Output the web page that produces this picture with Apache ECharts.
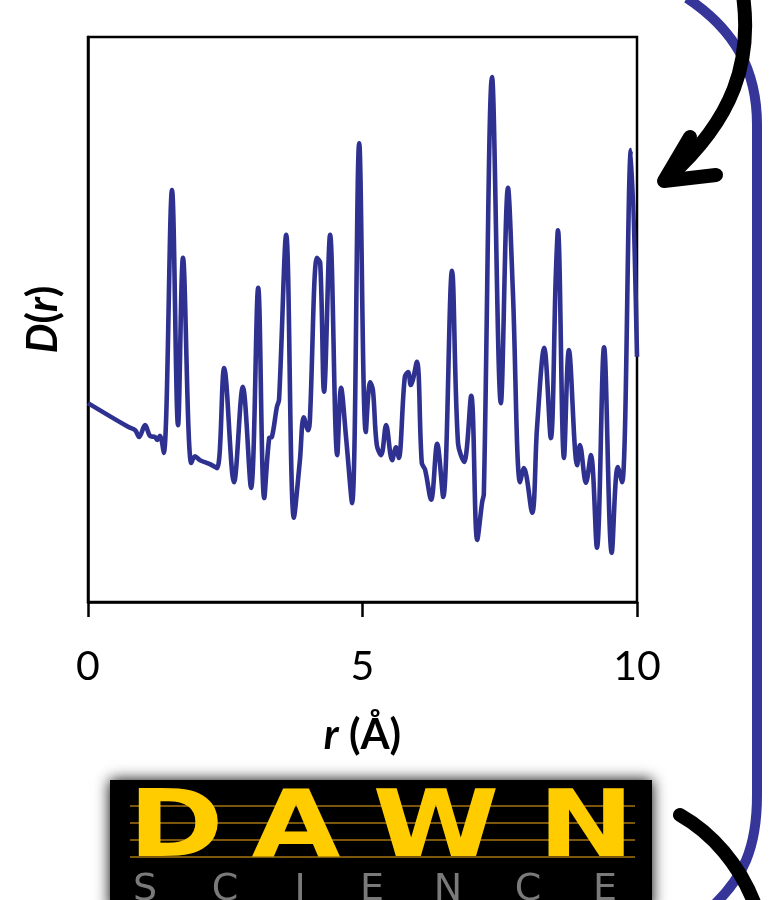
<!DOCTYPE html>
<html>
<head>
<meta charset="utf-8">
<script src="https://cdn.jsdelivr.net/npm/echarts@6/dist/echarts.min.js"></script>
<style>
  html, body { margin: 0; padding: 0; background: #fff; }
  #main { width: 776px; height: 900px; }
</style>
</head>
<body>
<div id="main"></div>
<script>
// r in angstrom, D(r) in arbitrary units (0-100 across the plot box)
let rValues = [0, 0.73, 0.86, 0.93, 1.04, 1.13, 1.22, 1.26, 1.31, 1.38,
    1.53, 1.64, 1.73, 1.88, 1.95, 2.04, 2.22, 2.35, 2.48, 2.66,
    2.82, 2.97, 3.10, 3.21, 3.30, 3.35, 3.44, 3.48, 3.61, 3.75,
    3.86, 3.93, 4.01, 4.04, 4.17, 4.23, 4.30, 4.41, 4.54, 4.61,
    4.70, 4.81, 4.94, 5.06, 5.14, 5.19, 5.26, 5.34, 5.43, 5.54,
    5.61, 5.66, 5.77, 5.83, 5.88, 5.99, 6.08, 6.14, 6.25, 6.36,
    6.47, 6.63, 6.74, 6.85, 6.98, 7.09, 7.18, 7.21, 7.36, 7.52,
    7.65, 7.74, 7.87, 7.94, 8.09, 8.18, 8.31, 8.43, 8.52, 8.56,
    8.67, 8.76, 8.91, 8.96, 9.07, 9.16, 9.27, 9.40, 9.54, 9.65,
    9.73, 9.89, 10.0];
let dValues = [35.2, 31.0, 30.4, 29.2, 31.3, 29.4, 29.2, 28.7, 29.4, 26.4,
    72.9, 31.3, 60.9, 24.6, 25.8, 25.1, 24.4, 23.7, 41.4, 21.2,
    38.1, 20.2, 55.6, 18.4, 29.0, 29.2, 34.5, 35.8, 65.0, 14.9,
    25.1, 32.7, 30.4, 31.9, 60.9, 60.0, 37.2, 65.0, 26.0, 37.9,
    29.2, 17.5, 81.2, 30.1, 38.9, 37.5, 27.8, 26.0, 31.3, 25.1,
    27.4, 25.5, 39.8, 40.7, 38.4, 42.5, 24.6, 23.4, 18.1, 28.0,
    18.6, 58.6, 28.1, 24.8, 36.5, 11.0, 17.7, 19.1, 92.9, 35.2,
    73.3, 54.7, 21.2, 23.7, 15.8, 31.0, 45.0, 29.0, 57.5, 65.8,
    25.5, 44.6, 24.2, 27.8, 21.1, 26.0, 9.6, 45.1, 8.7, 23.9,
    21.2, 80.0, 43.4];
let xTicks = [0, 5, 10];

let dom = document.getElementById("main");
let myChart = echarts.init(dom);

let lineData = rValues.map(function (r, i) { return [r, dValues[i]]; });

let dawnLetters = ['D', 'A', 'W', 'N'];
let dawnX = [176, 296, 436, 586];
let scienceLetters = ['S', 'C', 'I', 'E', 'N', 'C', 'E'];
let scienceX = [145, 225, 300, 372, 448, 528, 605];

let graphics = [
    // DAWN logo box
    {
        type: 'rect', z: 1,
        shape: { x: 110, y: 780, width: 542, height: 130 },
        style: { fill: '#000', shadowBlur: 14, shadowColor: '#000' }
    }
];
[806, 823, 840, 857].forEach(function (y) {
    graphics.push({
        type: 'line', z: 2,
        shape: { x1: 130, y1: y, x2: 635, y2: y },
        style: { stroke: '#b07a10', lineWidth: 2, opacity: 0.7 }
    });
});
dawnLetters.forEach(function (ch, i) {
    graphics.push({
        type: 'text', z: 3,
        x: dawnX[i], y: 832, scaleX: 1.25,
        style: {
            text: ch, fill: '#ffcc00', align: 'center', verticalAlign: 'middle',
            font: 'bold 92px "DejaVu Sans"'
        }
    });
});
scienceLetters.forEach(function (ch, i) {
    graphics.push({
        type: 'text', z: 3,
        x: scienceX[i], y: 890,
        style: {
            text: ch, fill: '#7a7a7a', align: 'center', verticalAlign: 'middle',
            font: '38px "DejaVu Sans"'
        }
    });
});
// blue bracket
let blue = { fill: null, stroke: '#35359a', lineWidth: 10 };
graphics.push({
    type: 'bezierCurve', z: 4,
    shape: { x1: 687, y1: -2, cpx1: 735, cpy1: 30, cpx2: 757, cpy2: 70, x2: 757, y2: 125 },
    style: blue
});
graphics.push({
    type: 'line', z: 4,
    shape: { x1: 757, y1: 125, x2: 757, y2: 795 },
    style: blue
});
graphics.push({
    type: 'bezierCurve', z: 4,
    shape: { x1: 757, y1: 795, cpx1: 757, cpy1: 850, cpx2: 742, cpy2: 878, x2: 714, y2: 905 },
    style: blue
});
// black arrows
graphics.push({
    type: 'bezierCurve', z: 5,
    shape: { x1: 743, y1: -5, cpx1: 752, cpy1: 60, cpx2: 735, cpy2: 118, x2: 668, y2: 178 },
    style: { fill: null, stroke: '#000', lineWidth: 14, lineCap: 'round' }
});
graphics.push({
    type: 'polyline', z: 5,
    shape: { points: [[690, 137], [664, 181], [716, 175]] },
    style: { fill: null, stroke: '#000', lineWidth: 14, lineCap: 'round', lineJoin: 'round' }
});
graphics.push({
    type: 'bezierCurve', z: 5,
    shape: { x1: 680, y1: 815, cpx1: 712, cpy1: 833, cpx2: 740, cpy2: 865, x2: 755, y2: 905 },
    style: { fill: null, stroke: '#000', lineWidth: 14, lineCap: 'round' }
});

let nameRich = {
    i: { fontFamily: 'Lato', fontSize: 42, fontWeight: 'bold', fontStyle: 'italic', color: '#000' },
    b: { fontFamily: 'Lato', fontSize: 42, fontWeight: 'bold', color: '#000' }
};

option = {
    backgroundColor: '#fff',
    animation: false,
    grid: {
        left: 88, right: 139, top: 37, bottom: 298,
        show: true, borderColor: '#000', borderWidth: 2.5,
        backgroundColor: 'transparent'
    },
    xAxis: {
        type: 'value',
        min: 0, max: 10, interval: 5,
        name: '{i|r}{b| (Å)}',
        nameLocation: 'middle',
        nameGap: 112,
        nameTextStyle: { rich: nameRich },
        axisLine: { lineStyle: { color: '#000', width: 2.5 } },
        axisTick: { show: true, length: 15, lineStyle: { color: '#000', width: 2.5 } },
        axisLabel: {
            margin: 44,
            fontFamily: 'Lato', fontSize: 41, color: '#000',
            formatter: function (v) { return xTicks.indexOf(v) >= 0 ? String(v) : ''; }
        },
        splitLine: { show: false }
    },
    yAxis: {
        type: 'value',
        min: 0, max: 100,
        name: '{i|D}{b|(}{i|r}{b|)}',
        nameLocation: 'middle',
        nameGap: 24,
        nameTextStyle: { rich: nameRich },
        axisLine: { show: true, lineStyle: { color: '#000', width: 2.5 } },
        axisTick: { show: false },
        axisLabel: { show: false },
        splitLine: { show: false }
    },
    series: [
        {
            name: 'D(r)',
            type: 'line',
            data: lineData,
            smooth: 0.35,
            showSymbol: false,
            lineStyle: { color: '#2e3190', width: 4.6 },
            clip: true
        }
    ],
    graphic: graphics
};

if (option && typeof option === "object") {
    myChart.setOption(option, true);
    window.addEventListener("resize", function () {
        myChart.resize();
    });
}
</script>
</body>
</html>
